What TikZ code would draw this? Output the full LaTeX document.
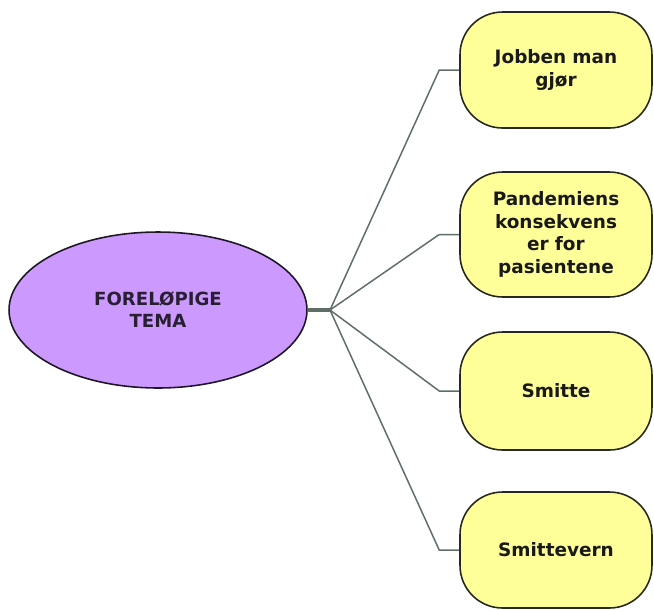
\documentclass[tikz,border=0pt]{standalone}
\usepackage{fontspec}
\setsansfont{DejaVu Sans}
\definecolor{temapurple}{RGB}{204, 153, 255}
\definecolor{boxyellow}{RGB}{255, 255, 153}
\definecolor{linkgray}{RGB}{96, 110, 106}
\definecolor{edgedark}{RGB}{40, 40, 30}
\usepackage{tikz}
\usetikzlibrary{shapes.geometric}

\begin{document}
\begin{tikzpicture}[x=0.02cm, y=-0.02cm,
    topic/.style={draw=edgedark, fill=boxyellow, line width=0.9pt, rounded corners=0.85cm, minimum width=3.84cm, text width=3.4cm, align=center, font=\sffamily\bfseries\fontsize{10.5}{12.8}\selectfont, text=black!90},
    link/.style={draw=linkgray, line width=0.85pt}]
  \useasboundingbox (0,0) rectangle (654,610);

  % Centre topic
  \node[ellipse, draw=black!85!temapurple, fill=temapurple, line width=0.9pt, minimum width=5.96cm, minimum height=3.12cm, align=center, font=\sffamily\bfseries\fontsize{10.3}{12.5}\selectfont, text=black!80!temapurple] (tema) at (158,310) {FORELØPIGE\\TEMA};
  \coordinate (junc) at (330,310);

  % Themes
  \node[topic, minimum height=2.32cm] (jobb) at (556,70) {Jobben man\\gjør};
  \node[topic, minimum height=2.5cm] (pand) at (556,234.5) {Pandemiens\\konsekvens\\er for\\pasientene};
  \node[topic, minimum height=2.36cm] (smit) at (556,391) {Smitte};
  \node[topic, minimum height=2.32cm] (vern) at (556,550) {Smittevern};

  % Links
  \draw[link, line width=2.2pt] (tema.east) -- (junc);
  \draw[link] (junc) -- ([xshift=-0.4cm]jobb.west) -- (jobb.west);
  \draw[link] (junc) -- ([xshift=-0.4cm]pand.west) -- (pand.west);
  \draw[link] (junc) -- ([xshift=-0.4cm]smit.west) -- (smit.west);
  \draw[link] (junc) -- ([xshift=-0.4cm]vern.west) -- (vern.west);
\end{tikzpicture}
\end{document}
